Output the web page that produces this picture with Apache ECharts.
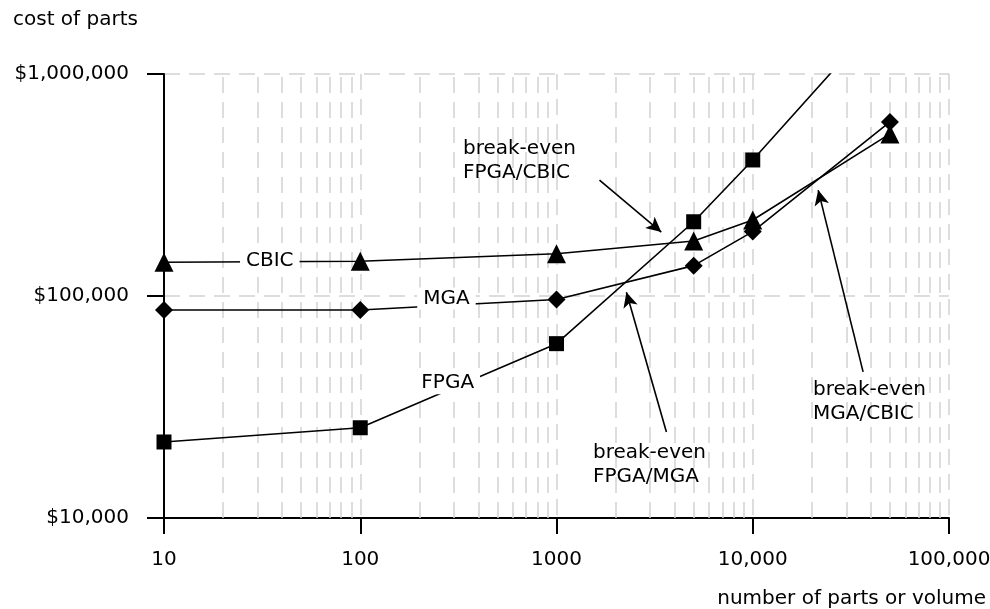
<!DOCTYPE html>
<html>
<head>
<meta charset="utf-8">
<script src="https://cdn.jsdelivr.net/npm/echarts@6/dist/echarts.min.js"></script>
<style>html,body{margin:0;padding:0;background:#fff}#c{width:990px;height:609px}</style>
</head>
<body>
<div id="c"></div>
<script>
// ---- data ----
var volumes = [10, 100, 1000, 5000, 10000, 50000];
var fpgaCost = [22000, 25500, 61000, 216000, 410000, 2000000];
var mgaCost  = [86500, 86500, 96500, 137000, 195000, 608000];
var cbicCost = [142000, 143500, 155000, 177000, 220000, 537000];
var xTickLabels = {10: '10', 100: '100', 1000: '1000', 10000: '10,000', 100000: '100,000'};
var yTickLabels = {10000: '$10,000', 100000: '$100,000', 1000000: '$1,000,000'};
// series name labels placed on lines [x, y]
var seriesLabelPos = { CBIC: [34.6, 144000], MGA: [275, 97500], FPGA: [279, 40500] };
// break-even arrows: [from, to]
var arrows = [
  [[1656, 333000], [3420, 194000]],
  [[3631, 24400], [2271, 104000]],
  [[36500, 45500], [21550, 300000]]
];

var FONT = 'DejaVu Sans';
var FS = 20;

function pairs(xs, ys) { return xs.map(function (x, i) { return [x, ys[i]]; }); }

var minor = [];
[10, 100, 1000, 10000].forEach(function (d) { for (var k = 2; k <= 9; k++) minor.push({ xAxis: d * k }); });

var gridDash = { color: '#d2d2d2', width: 1.5, type: [16, 9] };

function nameLabel(name) {
  return {
    z: 8,
    symbol: 'rect', symbolSize: 1, itemStyle: { color: 'rgba(0,0,0,0)' },
    silent: true,
    data: [{ coord: seriesLabelPos[name], name: name,
      label: { show: true, position: 'inside', formatter: name, color: '#000',
        fontFamily: FONT, fontSize: FS, backgroundColor: '#fff', padding: [1, 6] } }]
  };
}

function mkSeries(name, data, symbol, size, z) {
  return {
    name: name, type: 'line', data: pairs(volumes, data),
    symbol: symbol, symbolSize: size, showAllSymbol: true,
    lineStyle: { color: '#000', width: 1.6 },
    itemStyle: { color: '#000', borderColor: '#000', borderWidth: 0, opacity: 1 },
    emphasis: { disabled: true },
    z: z, clip: true, animation: false,
    markPoint: nameLabel(name)
  };
}

var chart = echarts.init(document.getElementById('c'));
chart.setOption({
  animation: false,
  grid: { left: 164, right: 41, top: 74, bottom: 91, outerBoundsMode: 'none', containLabel: false },
  xAxis: {
    type: 'log', logBase: 10, min: 10, max: 100000,
    axisLine: { lineStyle: { color: '#000', width: 2 } },
    axisTick: { show: true, length: 16, lineStyle: { color: '#000', width: 2 } },
    axisLabel: { margin: 32, color: '#000', fontFamily: FONT, fontSize: FS,
      formatter: function (v) { var r = Math.round(v); return xTickLabels[r] || ''; } },
    splitLine: { show: true, lineStyle: gridDash }
  },
  yAxis: {
    type: 'log', logBase: 10, min: 10000, max: 1000000,
    axisLine: { lineStyle: { color: '#000', width: 2 } },
    axisTick: { show: true, length: 17, lineStyle: { color: '#000', width: 2 } },
    axisLabel: { margin: 35, color: '#000', fontFamily: FONT, fontSize: FS,
      formatter: function (v) { var r = Math.round(v); return yTickLabels[r] || ''; } },
    splitLine: { show: true, lineStyle: gridDash }
  },
  graphic: [
    { type: 'text', left: 13, top: 10, style: { text: 'cost of parts', font: FS + 'px "' + FONT + '"', fill: '#000' } },
    { type: 'text', right: 4, top: 589, style: { text: 'number of parts or volume', font: FS + 'px "' + FONT + '"', fill: '#000' } },
    { type: 'text', left: 463, top: 137, z: 10, style: { text: 'break-even\nFPGA/CBIC', font: FS + 'px "' + FONT + '"', fill: '#000', lineHeight: 24 } },
    { type: 'text', left: 593, top: 441, z: 10, style: { text: 'break-even\nFPGA/MGA', font: FS + 'px "' + FONT + '"', fill: '#000', lineHeight: 24 } },
    { type: 'text', left: 813, top: 378, z: 10, style: { text: 'break-even\nMGA/CBIC', font: FS + 'px "' + FONT + '"', fill: '#000', lineHeight: 24 } }
  ],
  series: [
    {
      name: 'minorGrid', type: 'line', data: [], z: 1, silent: true,
      markLine: { z: 1, silent: true, symbol: 'none', label: { show: false },
        lineStyle: gridDash, data: minor, animation: false }
    },
    mkSeries('CBIC', cbicCost, 'triangle', 19, 3),
    mkSeries('MGA', mgaCost, 'diamond', 18, 4),
    mkSeries('FPGA', fpgaCost, 'rect', 15, 5),
    {
      name: 'arrows', type: 'line', data: [], z: 6, silent: true,
      markLine: { z: 6, silent: true, symbol: ['none', 'arrow'], symbolSize: [11, 15],
        label: { show: false }, lineStyle: { color: '#000', width: 1.6, type: 'solid' },
        itemStyle: { color: '#000' }, animation: false,
        data: arrows.map(function (a) { return [{ coord: a[0] }, { coord: a[1] }]; }) }
    }
  ]
});
</script>
</body>
</html>
